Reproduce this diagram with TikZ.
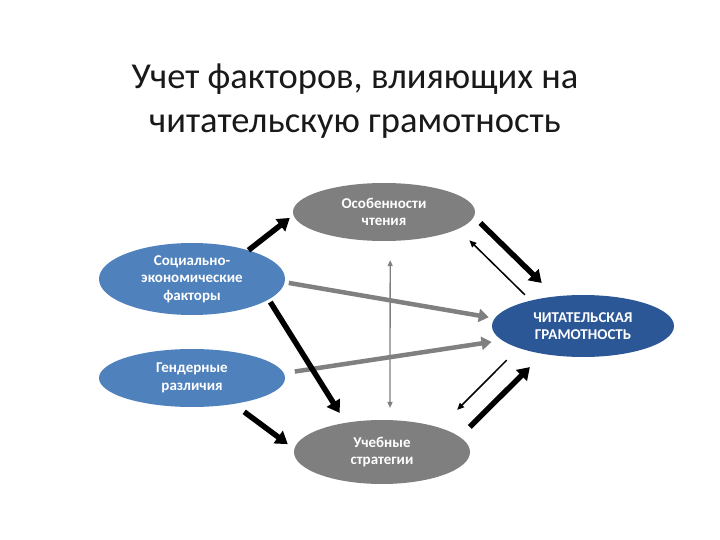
\documentclass[tikz,border=0pt]{standalone}
\usepackage{fontspec}
\setmainfont{Carlito}
\usetikzlibrary{shapes.geometric,arrows.meta}
\definecolor{bluel}{HTML}{4F81BD}
\definecolor{blued}{HTML}{2B5797}
\definecolor{grayel}{HTML}{7F7F7F}
\definecolor{grayar}{HTML}{808080}
\begin{document}
\begin{tikzpicture}[x=1pt,y=-1pt,
 el/.style={ellipse,inner sep=0pt,text=white,align=center,font=\bfseries\fontsize{15}{17.5}\selectfont},
 ttl/.style={anchor=base,inner sep=0pt,font=\fontsize{36.5}{44}\selectfont,text=black!90},
 bigarr/.style={draw=black,line width=5.5pt,-{Triangle[length=12pt,width=15pt]}},
 thinarr/.style={draw=black,line width=1.5pt,-{Triangle[length=7pt,width=6pt]}},
 grayarr/.style={draw=grayar,line width=4.5pt,-{Triangle[length=10pt,width=13pt,fill=grayar]}},
 grayv/.style={draw=grayar,line width=1.3pt,{Triangle[length=6pt,width=5pt]}-{Triangle[length=6pt,width=5pt]}}]
\useasboundingbox[fill=white] (0,0) rectangle (720,540);
\node[ttl] (title1) at (355,89) {Учет факторов, влияющих на};
\node[ttl] (title2) at (355,133) {читательскую грамотность};
\node[el,fill=grayel,minimum width=182pt,minimum height=58pt] (osob) at (384,212) {Особенности\\чтения};
\node[el,fill=bluel,minimum width=186pt,minimum height=72pt] (socio) at (192,279) {Социально-\\экономические\\факторы};
\node[el,fill=blued,minimum width=182pt,minimum height=62pt] (gram) at (583,326) {ЧИТАТЕЛЬСКАЯ\\ГРАМОТНОСТЬ};
\node[el,fill=bluel,minimum width=186pt,minimum height=58pt] (gender) at (192,378) {Гендерные\\различия};
\node[el,fill=grayel,minimum width=176pt,minimum height=64pt] (ucheb) at (382,452) {Учебные\\стратегии};
\draw[grayv,shorten <=19pt,shorten >=12pt] (osob.282) -- (ucheb.76);
\draw[grayarr,shorten <=4pt,shorten >=6pt] (socio.358) -- (gram.175);
\draw[grayarr,shorten <=11pt,shorten >=10.5pt] (gender.3) -- (gram.190);
\draw[bigarr,shorten <=0pt,shorten >=4.5pt] (socio.27) -- (osob.182);
\draw[bigarr,shorten <=3pt,shorten >=11.5pt] (socio.345) -- (ucheb.141);
\draw[bigarr,shorten <=13pt,shorten >=8pt] (gender.328) -- (ucheb.178);
\draw[bigarr,shorten <=9pt,shorten >=19pt] (osob.357) -- (gram.133);
\draw[thinarr,shorten <=8pt,shorten >=16pt] (gram.154) -- (osob.347);
\draw[bigarr,shorten <=14pt,shorten >=18.5pt] (ucheb.11) -- (gram.215);
\draw[thinarr,shorten <=17pt,shorten >=25pt] (gram.199) -- (ucheb.23);
\end{tikzpicture}
\end{document}
